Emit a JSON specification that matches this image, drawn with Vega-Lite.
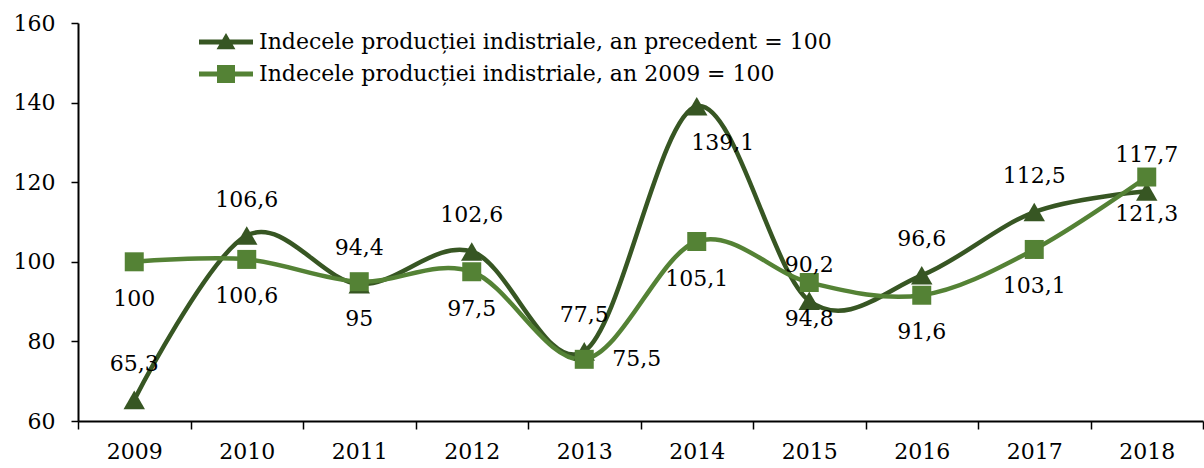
{
  "$schema": "https://vega.github.io/schema/vega-lite/v6.json",
  "width": 1125,
  "height": 398,
  "autosize": {"type": "none"},
  "padding": {"left": 78, "top": 23, "right": 1, "bottom": 47},
  "background": "white",
  "config": {
    "view": {"stroke": null},
    "font": "DejaVu Serif",
    "locale": {"number": {"decimal": ",", "thousands": ".", "grouping": [3], "currency": ["", ""]}}
  },
  "data": {
    "values": [
      {"year": "2009", "series": "Indecele producției indistriale, an precedent = 100", "value": 65.3},
      {"year": "2010", "series": "Indecele producției indistriale, an precedent = 100", "value": 106.6},
      {"year": "2011", "series": "Indecele producției indistriale, an precedent = 100", "value": 94.4},
      {"year": "2012", "series": "Indecele producției indistriale, an precedent = 100", "value": 102.6},
      {"year": "2013", "series": "Indecele producției indistriale, an precedent = 100", "value": 77.5},
      {"year": "2014", "series": "Indecele producției indistriale, an precedent = 100", "value": 139.1},
      {"year": "2015", "series": "Indecele producției indistriale, an precedent = 100", "value": 90.2},
      {"year": "2016", "series": "Indecele producției indistriale, an precedent = 100", "value": 96.6},
      {"year": "2017", "series": "Indecele producției indistriale, an precedent = 100", "value": 112.5},
      {"year": "2018", "series": "Indecele producției indistriale, an precedent = 100", "value": 117.7},
      {"year": "2009", "series": "Indecele producției indistriale, an 2009 = 100", "value": 100},
      {"year": "2010", "series": "Indecele producției indistriale, an 2009 = 100", "value": 100.6},
      {"year": "2011", "series": "Indecele producției indistriale, an 2009 = 100", "value": 95},
      {"year": "2012", "series": "Indecele producției indistriale, an 2009 = 100", "value": 97.5},
      {"year": "2013", "series": "Indecele producției indistriale, an 2009 = 100", "value": 75.5},
      {"year": "2014", "series": "Indecele producției indistriale, an 2009 = 100", "value": 105.1},
      {"year": "2015", "series": "Indecele producției indistriale, an 2009 = 100", "value": 94.8},
      {"year": "2016", "series": "Indecele producției indistriale, an 2009 = 100", "value": 91.6},
      {"year": "2017", "series": "Indecele producției indistriale, an 2009 = 100", "value": 103.1},
      {"year": "2018", "series": "Indecele producției indistriale, an 2009 = 100", "value": 121.3}
    ]
  },
  "encoding": {
    "x": {
      "field": "year", "type": "ordinal", "bandPosition": 0.5,
      "scale": {"type": "band", "paddingInner": 0, "paddingOuter": 0},
      "axis": {
        "title": null, "labelAngle": 0, "tickBand": "extent",
        "domainColor": "black", "domainWidth": 2, "tickColor": "black", "tickWidth": 1.5, "tickSize": 8,
        "labelFont": "DejaVu Serif", "labelFontSize": 22, "labelColor": "black", "labelPadding": 12
      }
    },
    "y": {
      "field": "value", "type": "quantitative",
      "scale": {"domain": [60, 160], "nice": false, "zero": false},
      "axis": {
        "title": null, "values": [60, 80, 100, 120, 140, 160], "grid": false,
        "domainColor": "black", "domainWidth": 2, "tickColor": "black", "tickWidth": 1.5, "tickSize": 7,
        "labelFont": "DejaVu Serif", "labelFontSize": 22, "labelColor": "black", "labelPadding": 16
      }
    }
  },
  "layer": [
    {
      "mark": {"type": "line", "interpolate": "cardinal", "strokeWidth": 4.5},
      "encoding": {
        "color": {
          "field": "series", "type": "nominal",
          "scale": {
            "domain": ["Indecele producției indistriale, an precedent = 100", "Indecele producției indistriale, an 2009 = 100"],
            "range": ["#375623", "#548235"]
          },
          "legend": {
            "title": null, "orient": "none", "legendX": 137, "legendY": 8, "padding": 0,
            "symbolSize": 324, "symbolStrokeWidth": 0, "labelOffset": 22, "rowPadding": 10,
            "labelFont": "DejaVu Serif", "labelFontSize": 22, "labelColor": "black", "labelLimit": 1000,
            "encode": {
              "symbols": {
                "update": {
                  "shape": {"signal": "datum.value === 'Indecele producției indistriale, an precedent = 100' ? 'M-3,-0.28H3V0.28H-3Z M0,-1L1.05,0.8H-1.05Z' : 'M-3,-0.28H3V0.28H-3Z M-1,-1H1V1H-1Z'"},
                  "fill": {"scale": "color", "field": "value"},
                  "strokeWidth": {"value": 0}
                }
              }
            }
          }
        }
      }
    },
    {
      "transform": [{"filter": "datum.series === 'Indecele producției indistriale, an precedent = 100'"}],
      "mark": {"type": "point", "shape": "triangle-up", "filled": true, "opacity": 1, "size": 460, "color": "#375623"}
    },
    {
      "transform": [{"filter": "datum.series === 'Indecele producției indistriale, an 2009 = 100'"}],
      "mark": {"type": "point", "shape": "square", "filled": true, "opacity": 1, "size": 361, "color": "#548235"}
    },
    {
      "transform": [{"filter": "datum.series === 'Indecele producției indistriale, an precedent = 100' && datum.year !== '2014'"}],
      "mark": {"type": "text", "dy": -36, "fontSize": 22, "color": "black", "baseline": "middle"},
      "encoding": {"text": {"field": "value", "type": "quantitative", "format": ".1~f"}}
    },
    {
      "transform": [{"filter": "datum.series === 'Indecele producției indistriale, an precedent = 100' && datum.year === '2014'"}],
      "mark": {"type": "text", "dx": 26, "dy": 37, "fontSize": 22, "color": "black", "baseline": "middle"},
      "encoding": {"text": {"field": "value", "type": "quantitative", "format": ".1~f"}}
    },
    {
      "transform": [{"filter": "datum.series === 'Indecele producției indistriale, an 2009 = 100' && datum.year !== '2013'"}],
      "mark": {"type": "text", "dy": 37, "fontSize": 22, "color": "black", "baseline": "middle"},
      "encoding": {"text": {"field": "value", "type": "quantitative", "format": ".1~f"}}
    },
    {
      "transform": [{"filter": "datum.series === 'Indecele producției indistriale, an 2009 = 100' && datum.year === '2013'"}],
      "mark": {"type": "text", "dx": 28, "fontSize": 22, "color": "black", "baseline": "middle", "align": "left"},
      "encoding": {"text": {"field": "value", "type": "quantitative", "format": ".1~f"}}
    }
  ]
}
